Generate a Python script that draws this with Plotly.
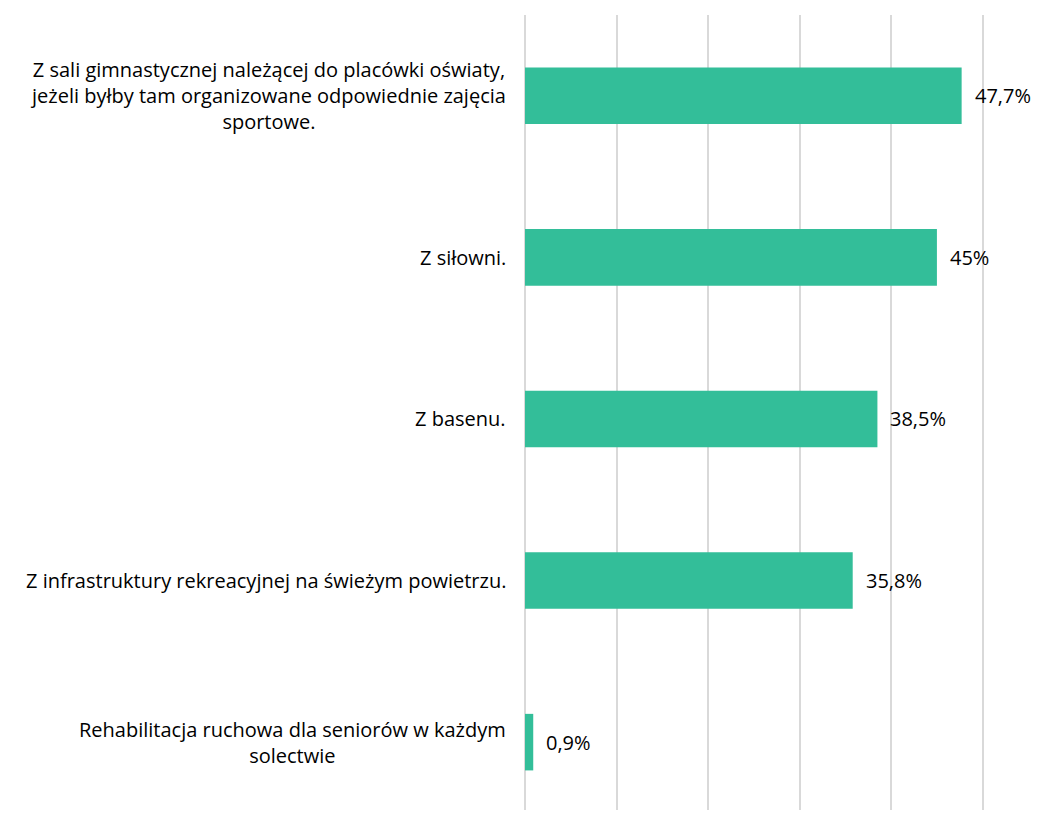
import plotly.graph_objects as go

categories = [
    "Z sali gimnastycznej należącej do placówki oświaty,<br>jeżeli byłby tam organizowane odpowiednie zajęcia<br>sportowe.",
    "Z siłowni.",
    "Z basenu.",
    "Z infrastruktury rekreacyjnej na świeżym powietrzu.",
    "Rehabilitacja ruchowa dla seniorów w każdym<br>solectwie",
]
values = [47.7, 45.0, 38.5, 35.8, 0.9]
value_labels = ["47,7%", "45%", "38,5%", "35,8%", "0,9%"]

BAR_COLOR = "#33BE99"
GRID_COLOR = "#D9D9D9"
FONT = "Open Sans"

idx = list(range(len(categories)))

fig = go.Figure()
fig.add_trace(go.Bar(
    x=values, y=idx, orientation="h",
    marker=dict(color=BAR_COLOR, line=dict(width=0)),
    width=0.35, hoverinfo="skip",
))

annotations = []
for i, (c, v, t) in enumerate(zip(categories, values, value_labels)):
    annotations.append(dict(
        x=0, xref="paper", y=i, yref="y", text=c, showarrow=False,
        xanchor="right", yanchor="middle", align="center", xshift=-17,
        font=dict(family=FONT, size=20, color="#000000"),
    ))
    annotations.append(dict(
        x=v, xref="x", y=i, yref="y", text=t, showarrow=False,
        xanchor="left", yanchor="middle", xshift=11,
        font=dict(family=FONT, size=20, color="#000000"),
    ))

fig.update_layout(
    width=1045, height=814,
    margin=dict(l=517, r=52, t=7, b=12),
    plot_bgcolor="white", paper_bgcolor="white",
    showlegend=False,
    annotations=annotations,
    xaxis=dict(range=[0, 52], dtick=10, showgrid=True, gridcolor=GRID_COLOR,
               gridwidth=1.5, zeroline=True, zerolinecolor=GRID_COLOR,
               zerolinewidth=1.5, showticklabels=False, showline=False, ticks=""),
    yaxis=dict(range=[4.42, -0.5], showgrid=False, zeroline=False,
               showticklabels=False, showline=False, ticks=""),
)

fig.write_html("out.html")
